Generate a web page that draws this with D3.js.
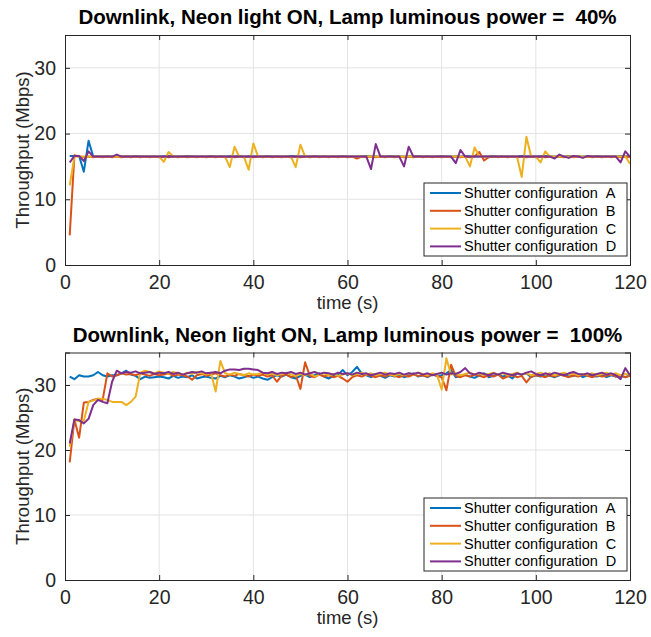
<!DOCTYPE html>
<html>
<head>
<meta charset="utf-8">
<script src="https://cdn.jsdelivr.net/npm/d3@7"></script>
<style>
  body { margin: 0; background: #fff; }
  svg { display: block; font-family: "Liberation Sans", Arial, sans-serif; }
</style>
</head>
<body>
<div id="chart"></div>
<script>
const seriesNames = ["Shutter configuration  A", "Shutter configuration  B", "Shutter configuration  C", "Shutter configuration  D"];
const colors = ["#0072BD", "#D95319", "#EDB120", "#7E2F8E"];
const titles = ["Downlink, Neon light ON, Lamp luminous power =  40%", "Downlink, Neon light ON, Lamp luminous power =  100%"];
const xTicks = [0, 20, 40, 60, 80, 100, 120];
const yTicks = [0, 10, 20, 30];
const time = d3.range(1, 121);

// 40% lamp power
const p40A = [16.6,16.6,16.6,14.2,18.9,16.5,16.5,16.5,16.5,16.5, 16.6,16.5,16.5,16.5,16.6,16.5,16.5,16.5,16.5,16.5,
  16.5,16.6,16.5,16.5,16.5,16.6,16.5,16.5,16.5,16.5, 16.6,16.5,16.5,16.5,16.5,16.5,16.6,16.5,16.5,16.5,
  16.5,16.5,16.6,16.5,16.5,16.5,16.5,16.6,16.5,16.5, 16.5,16.5,16.6,16.5,16.5,16.5,16.5,16.5,16.6,16.5,
  16.5,16.5,16.5,16.6,16.5,16.5,16.5,16.5,16.6,16.5, 16.5,16.5,16.5,16.5,16.6,16.5,16.5,16.5,16.5,16.6,
  16.5,16.5,16.5,16.5,16.6,16.5,16.5,16.5,16.5,16.5, 16.6,16.5,16.5,16.5,16.5,16.5,16.6,16.5,16.5,16.5,
  16.5,16.6,16.5,16.5,16.5,16.5,16.6,16.5,16.5,16.5, 16.5,16.5,16.6,16.5,16.5,16.5,16.5,16.6,16.5,16.6];
const p40B = [4.5,16.7,16.5,16.4,16.5,16.4,16.5,16.4,16.5,16.4, 16.5,16.4,16.5,16.4,16.5,16.4,16.5,16.4,16.5,16.4,
  16.5,16.4,16.5,16.4,16.5,16.4,16.5,16.4,16.5,16.4, 16.5,16.4,16.5,16.4,16.5,16.4,16.5,16.4,16.5,16.4,
  16.5,16.4,16.5,16.4,16.5,16.4,16.5,16.4,16.5,16.4, 16.5,16.4,16.5,16.4,16.5,16.4,16.5,16.4,16.5,16.4,
  16.5,16.2,16.5,16.4,16.5,16.4,16.5,16.4,16.5,16.4, 16.5,16.4,16.5,16.4,16.5,16.4,16.5,16.4,16.5,16.4,
  16.5,16.4,16.5,16.4,16.5,16.4,16.5,17.2,15.9,16.4, 16.5,16.4,16.5,16.4,16.5,16.4,16.5,16.4,16.5,16.4,
  16.5,16.4,16.5,16.4,16.5,16.4,16.5,16.4,16.5,16.4, 16.5,16.4,16.5,16.4,16.5,16.4,16.5,16.4,16.5,16.4];
const p40C = [12.1,16.5,16.5,16.5,16.5,16.5,16.5,16.5,16.5,16.5, 16.5,16.5,16.5,16.5,16.5,16.5,16.5,16.5,16.5,16.5,
  15.7,17.2,16.5,16.5,16.5,16.5,16.5,16.5,16.5,16.5, 16.5,16.5,16.5,16.5,14.9,18.0,16.5,16.5,14.5,18.5,
  16.5,16.5,16.5,16.5,16.5,16.5,16.5,16.5,14.9,18.3, 16.5,16.5,16.5,16.5,16.5,16.5,16.5,16.5,16.5,16.5,
  16.5,16.5,16.5,16.5,16.5,16.5,16.5,16.5,16.5,16.5, 16.5,16.5,16.5,16.5,16.5,16.5,16.5,16.5,16.5,16.5,
  16.5,16.5,16.5,16.5,16.5,15.0,17.9,16.5,16.5,16.5, 16.5,16.5,16.5,16.5,16.5,16.5,13.4,19.5,16.5,16.5,
  15.6,17.3,16.5,16.5,16.5,16.5,16.5,16.5,16.5,16.5, 16.5,16.5,16.5,16.5,16.5,16.5,16.5,16.5,16.5,15.4];
const p40D = [15.6,16.6,16.6,15.8,17.3,16.5,16.5,16.5,16.5,16.5, 16.8,16.5,16.5,16.5,16.5,16.5,16.5,16.5,16.5,16.5,
  16.5,16.5,16.5,16.5,16.5,16.5,16.5,16.5,16.5,16.5, 16.5,16.5,16.5,16.5,16.5,16.5,16.5,16.5,16.5,16.5,
  16.5,16.5,16.5,16.5,16.5,16.5,16.5,16.5,16.5,16.5, 16.5,16.5,16.5,16.5,16.5,16.5,16.5,16.5,16.5,16.5,
  16.5,16.5,16.5,16.5,14.6,18.4,16.5,16.5,16.5,16.5, 16.5,15.0,18.0,16.5,16.5,16.5,16.5,16.5,16.5,16.5,
  16.5,16.5,15.5,17.5,16.5,16.5,16.5,16.5,16.5,16.5, 16.5,16.5,16.5,16.5,16.5,16.5,16.5,16.5,16.5,16.5,
  16.5,16.5,16.5,16.2,16.8,16.5,16.3,16.6,16.5,16.3, 16.6,16.5,16.5,16.5,16.5,16.5,16.5,15.6,17.3,16.5];

// 100% lamp power
const p100A = [31.3,30.9,31.5,31.3,31.3,31.5,32.0,31.5,31.3,31.5, 31.5,31.8,32.2,31.6,31.4,30.9,31.3,31.1,31.2,31.3,
  31.2,31.0,31.4,31.1,31.3,31.2,31.5,31.0,31.2,31.3, 31.1,31.0,31.4,31.2,31.5,31.3,31.0,31.2,31.4,31.1,
  31.3,31.0,30.8,31.2,31.5,31.3,31.6,31.2,31.0,31.4, 31.6,31.2,31.5,31.8,31.3,31.0,31.4,31.6,32.3,31.5,
  32.0,32.8,31.8,31.5,31.2,31.6,31.4,31.1,31.5,31.3, 31.6,31.2,31.4,31.8,31.3,31.5,31.2,31.6,31.4,31.5,
  31.8,32.3,31.2,31.4,31.6,31.3,31.1,31.5,31.8,31.2, 31.4,31.6,31.3,31.5,31.0,31.8,31.6,31.8,31.2,31.5,
  31.3,31.6,31.4,31.2,31.5,31.8,31.3,31.4,31.6,31.2, 31.5,31.4,31.3,31.6,31.2,31.5,31.3,31.4,31.2,31.5];
const p100B = [18.1,24.7,21.9,27.3,27.4,27.7,27.9,27.7,31.8,31.3, 31.5,31.8,31.6,31.7,31.5,31.8,31.6,31.4,31.7,31.5,
  31.6,31.8,31.4,31.6,31.5,31.3,30.8,31.5,31.7,31.4, 31.6,31.8,31.5,31.3,31.6,31.4,31.7,31.5,31.3,31.6,
  31.4,31.6,31.3,31.5,30.5,31.4,31.6,31.2,31.5,29.4, 33.5,31.4,31.2,31.6,31.3,31.5,31.2,31.4,31.0,30.5,
  31.2,31.5,31.3,31.6,31.4,31.2,31.5,31.3,31.6,31.4, 31.2,31.5,31.3,31.6,31.4,31.5,31.3,31.6,31.4,31.2,
  29.2,33.1,31.4,31.2,31.5,31.3,31.6,31.4,31.2,31.5, 31.3,31.6,31.0,31.3,31.5,31.2,31.4,30.4,31.3,31.5,
  31.4,31.2,31.5,31.3,31.6,31.4,31.2,31.5,31.3,31.6, 31.4,31.2,31.5,31.3,31.4,31.6,31.3,31.5,31.2,31.4];
const p100C = [20.5,24.6,24.4,24.5,27.4,27.6,27.9,27.9,27.7,27.4, 27.4,27.4,26.9,27.4,28.2,31.9,32.2,32.0,31.8,32.1,
  31.9,31.7,32.0,31.8,31.6,31.9,31.7,32.0,31.8,31.6, 31.9,29.0,33.7,31.8,31.6,31.9,31.7,31.5,31.8,31.6,
  31.7,31.9,31.6,31.8,31.5,31.7,31.9,31.6,31.4,31.7, 31.5,31.8,31.3,31.6,31.8,31.5,31.7,31.4,31.6,31.8,
  31.5,31.7,31.9,31.6,31.8,31.5,31.7,31.9,31.6,31.4, 31.7,31.5,31.8,31.6,31.9,31.7,31.5,31.8,31.6,29.3,
  34.1,31.6,31.8,31.5,31.7,31.9,31.6,31.8,31.5,31.7, 31.9,31.6,31.8,31.5,31.7,31.9,31.6,31.8,31.5,31.7,
  31.9,31.6,31.8,31.5,31.7,31.9,31.6,31.8,31.5,31.7, 31.6,31.8,31.5,31.7,31.9,31.6,31.8,31.5,31.7,31.6];
const p100D = [21.0,24.7,24.6,24.1,24.8,26.9,27.7,27.4,27.2,30.5, 32.2,31.8,32.0,31.9,32.1,31.8,31.9,32.0,31.7,31.9,
  31.8,32.0,31.7,31.9,31.6,31.8,32.0,31.9,32.1,31.8, 31.9,32.0,31.8,32.2,32.4,32.4,32.3,32.5,32.5,32.4,
  32.3,31.9,31.8,32.0,31.7,31.9,31.8,32.0,31.7,31.9, 31.6,31.8,32.0,31.7,31.9,31.8,31.6,31.9,31.7,31.8,
  31.6,31.9,31.7,31.8,31.5,31.7,31.9,31.6,31.8,31.7, 31.9,31.6,31.8,31.7,31.9,31.6,31.8,31.5,31.7,31.9,
  31.6,31.8,31.7,32.0,32.6,31.8,31.6,31.9,31.7,31.5, 31.8,31.6,31.9,31.7,31.5,31.8,31.6,31.9,32.1,31.7,
  31.5,31.8,31.6,31.9,31.7,31.5,31.8,32.0,31.7,31.6, 31.8,31.5,31.7,31.9,31.6,31.8,31.5,30.9,32.6,31.5];

const width = 651, height = 637;
const svg = d3.select("#chart").append("svg")
  .attr("width", width)
  .attr("height", height);

const axisColor = "#262626";
// keep the double spaces of the original labels
const keepSpaces = s => s.replace(/  /g, " \u00a0");

function drawPanel(top, bottom, title, series) {
  const left = 65, right = 630;
  const x = d3.scaleLinear().domain([0, 120]).range([left, right]);
  const y = d3.scaleLinear().domain([0, 35]).range([bottom, top]);
  const g = svg.append("g");

  // grid
  g.selectAll("line.gx").data(xTicks.slice(1, -1)).enter().append("line")
    .attr("x1", d => x(d)).attr("x2", d => x(d))
    .attr("y1", top).attr("y2", bottom)
    .attr("stroke", "#e3e3e3").attr("stroke-width", 1);
  g.selectAll("line.gy").data(yTicks.slice(1)).enter().append("line")
    .attr("x1", left).attr("x2", right)
    .attr("y1", d => y(d)).attr("y2", d => y(d))
    .attr("stroke", "#e3e3e3").attr("stroke-width", 1);

  // series
  const line = d3.line().x((d, i) => x(time[i])).y(d => y(d));
  series.forEach((s, k) => {
    g.append("path").datum(s)
      .attr("fill", "none")
      .attr("stroke", colors[k])
      .attr("stroke-width", 2)
      .attr("stroke-linejoin", "round")
      .attr("d", line);
  });

  // axes, MATLAB style box with inward ticks
  const xb = d3.axisBottom(x).tickValues(xTicks).tickSize(-5).tickPadding(10);
  const xt = d3.axisTop(x).tickValues(xTicks).tickSize(-5).tickFormat("");
  const yl = d3.axisLeft(y).tickValues(yTicks).tickSize(-5).tickPadding(9);
  const yr = d3.axisRight(y).tickValues(yTicks).tickSize(-5).tickFormat("");

  [[xb, `translate(0,${bottom})`], [xt, `translate(0,${top})`],
   [yl, `translate(${left},0)`], [yr, `translate(${right},0)`]].forEach(([ax, tr]) => {
    const a = g.append("g").attr("transform", tr).call(ax);
    a.select(".domain").attr("stroke", axisColor);
    a.selectAll(".tick line").attr("stroke", axisColor);
    a.selectAll(".tick text").attr("fill", axisColor)
      .style("font-size", "19.5px").style("font-family", "Liberation Sans, Arial, sans-serif");
  });

  // labels
  g.append("text")
    .attr("x", (left + right) / 2 + 0).attr("y", top - 11)
    .attr("text-anchor", "middle")
    .style("font-size", "20.5px").style("font-weight", "bold")
    .attr("fill", "#000")
    .text(keepSpaces(title));
  g.append("text")
    .attr("x", (left + right) / 2).attr("y", bottom + 44)
    .attr("text-anchor", "middle")
    .style("font-size", "18.5px")
    .attr("fill", axisColor)
    .text("time (s)");
  g.append("text")
    .attr("transform", `translate(29,${(top + bottom) / 2}) rotate(-90)`)
    .attr("text-anchor", "middle")
    .style("font-size", "18.5px")
    .attr("fill", axisColor)
    .text("Throughput (Mbps)");

  // legend
  const lx = 424, lw = 203, lh = 73, ly = bottom - 82;
  const leg = g.append("g").attr("transform", `translate(${lx},${ly})`);
  leg.append("rect").attr("width", lw).attr("height", lh)
    .attr("fill", "#fff").attr("stroke", axisColor).attr("stroke-width", 1);
  seriesNames.forEach((name, k) => {
    const yy = 10 + k * 17.8;
    leg.append("line")
      .attr("x1", 6).attr("x2", 37).attr("y1", yy).attr("y2", yy)
      .attr("stroke", colors[k]).attr("stroke-width", 2);
    leg.append("text")
      .attr("x", 40).attr("y", yy + 5)
      .style("font-size", "14.5px")
      .attr("fill", "#000")
      .text(keepSpaces(name));
  });
}

drawPanel(35, 265, titles[0], [p40A, p40B, p40C, p40D]);
drawPanel(352.5, 580, titles[1], [p100A, p100B, p100C, p100D]);
</script>
</body>
</html>
